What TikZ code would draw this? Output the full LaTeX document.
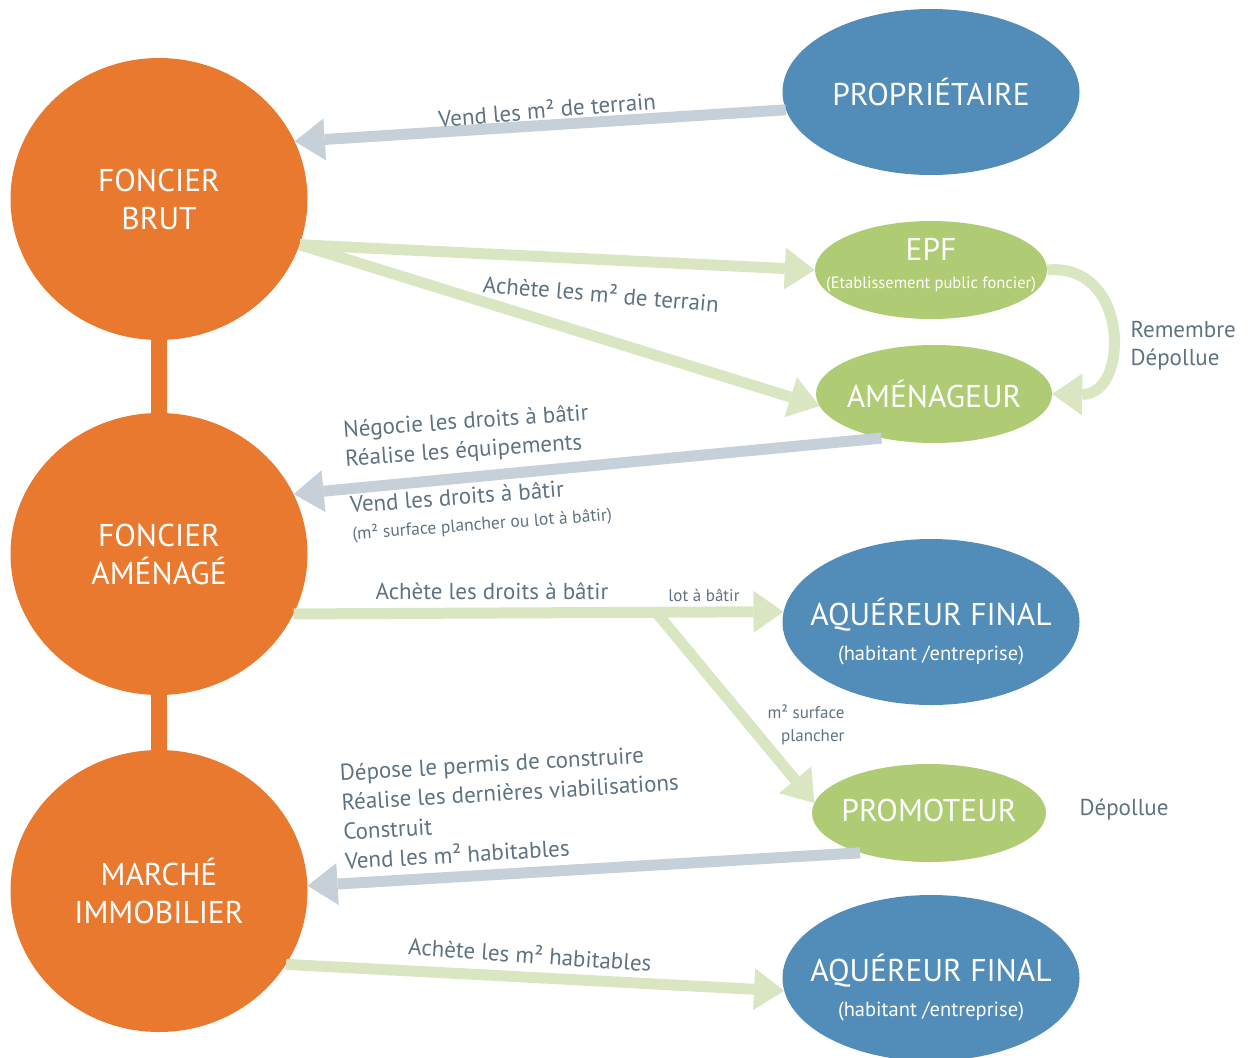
\documentclass[tikz,border=0pt]{standalone}
\usepackage{fontspec}
\setmainfont{PT Sans}
\usepackage{xcolor}
\usetikzlibrary{arrows.meta}
\usetikzlibrary{shapes.geometric}

\definecolor{orangeF}{HTML}{E8792E}
\definecolor{blueF}{HTML}{528DB9}
\definecolor{greenF}{HTML}{AFCB74}
\definecolor{greenA}{HTML}{DAE6C2}
\definecolor{greyA}{HTML}{C5D0D8}
\definecolor{greyT}{HTML}{5E7381}

\begin{document}
\begin{tikzpicture}[x=1pt,y=-1pt,
	ball/.style={ellipse,fill=orangeF,inner sep=0pt,minimum width=297pt,minimum height=282pt,
		text=white,align=center,font=\fontsize{31.5}{38}\selectfont},
	bluebub/.style={ellipse,fill=blueF,inner sep=0pt,minimum width=297pt,minimum height=166pt},
	greenbub/.style={ellipse,fill=greenF,inner sep=0pt,minimum width=234pt,minimum height=98pt},
	title/.style={text=white,align=center,font=\fontsize{31.5}{35}\selectfont},
	note/.style={text=greyT,align=left,font=\fontsize{23}{28}\selectfont},
	small/.style={text=greyT,font=\fontsize{17}{23}\selectfont},
	greyarrow/.style={draw=greyA,line width=11pt,-{Triangle[length=30pt,width=42pt,line width=0pt]}},
	greenarrow/.style={draw=greenA,line width=11pt,-{Triangle[length=30pt,width=42pt,line width=0pt]}}]
		
		\useasboundingbox (0,0) rectangle (1255,1057);
		
		% Left column
		\node[ball] (fb) at (159,199) {FONCIER\\BRUT};
		\node[ball] (fa) at (159,554) {FONCIER\\AMÉNAGÉ};
		\node[ball] (mi) at (159,891) {MARCHÉ\\IMMOBILIER};
		\draw[orangeF,line width=16pt] (fb.south) -- (fa.north);
		\draw[orangeF,line width=16pt] (fa.south) -- (mi.north);
		
		% Right column
		\node[bluebub,label={[title]center:PROPRIÉTAIRE}] (prop) at (931,92) {};
		\node[greenbub,minimum width=232pt,
		label={[title,yshift=5pt]center:{EPF\\[-7pt]{\fontsize{16.5}{18}\selectfont(Etablissement public foncier)}}}] (epf) at (931,270) {};
		\node[greenbub,minimum width=236pt,label={[title]center:AMÉNAGEUR}] (amen) at (934,394) {};
		\node[bluebub,
		label={[title,yshift=-10pt]center:{AQUÉREUR FINAL\\{\fontsize{20.5}{22}\selectfont(habitant /entreprise)}}}] (aq1) at (931,622) {};
		\node[greenbub,label={[title,yshift=3pt]center:PROMOTEUR}] (promo) at (929,813) {};
		\node[bluebub,
		label={[title,yshift=-10pt]center:{AQUÉREUR FINAL\\{\fontsize{20.5}{22}\selectfont(habitant /entreprise)}}}] (aq2) at (931,978) {};
		
		% Flows
		\draw[greyarrow] (prop.187) -- (fb.23);
		\draw[greenarrow] (fb.-18) -- (epf.west);
		\draw[greenarrow] (fb.-18) -- (amen.186);
		\draw[greenarrow] (epf.east) .. controls (1130,262) and (1130,395) .. (amen.east);
		\draw[greyarrow] (amen.220) -- (fa.24);
		\draw[greenarrow] (fa.-24) -- (aq1.176) coordinate[pos=0.74] (br);
		\draw[greenarrow] (br) -- (promo.175);
		\draw[greyarrow] (promo.210) -- (mi.2);
		\draw[greenarrow] (mi.-30) -- (aq2.185);
		
		% Labels
		\node[note,rotate=4.7] (t-vend) at (547,109) {Vend les m² de terrain};
		\node[note,rotate=-4.9] (t-achete) at (601,293) {Achète les m² de terrain};
		\node[note,anchor=west] (t-remembre) at (1127,346) {Remembre\\Dépollue};
		\node[note,rotate=4,font=\fontsize{23}{29}\selectfont] (t-negocie) at (467,437) {Négocie les droits à bâtir\\Réalise les équipements};
		\node[note,rotate=4.3,font=\fontsize{23}{27}\selectfont] (t-droits) at (481,510)
		{Vend les droits à bâtir\\{\fontsize{17.5}{19}\selectfont(m² surface plancher ou lot à bâtir)}};
		\node[note] (t-achdroits) at (492,591) {Achète les droits à bâtir};
		\node[small] (t-lot) at (704,595) {lot à bâtir};
		\node[small,align=right] (t-surface) at (806,725) {m² surface\\plancher};
		\node[note,rotate=3.4,font=\fontsize{23}{29.5}\selectfont] (t-depose) at (511,807)
		{Dépose le permis de construire\\Réalise les dernières viabilisations\\Construit\\Vend les m² habitables};
		\node[note,anchor=west] (t-depollue) at (1076,810) {Dépollue};
		\node[note,rotate=-4] (t-habit) at (530,954) {Achète les m² habitables};
		
	\end{tikzpicture}
\end{document}
